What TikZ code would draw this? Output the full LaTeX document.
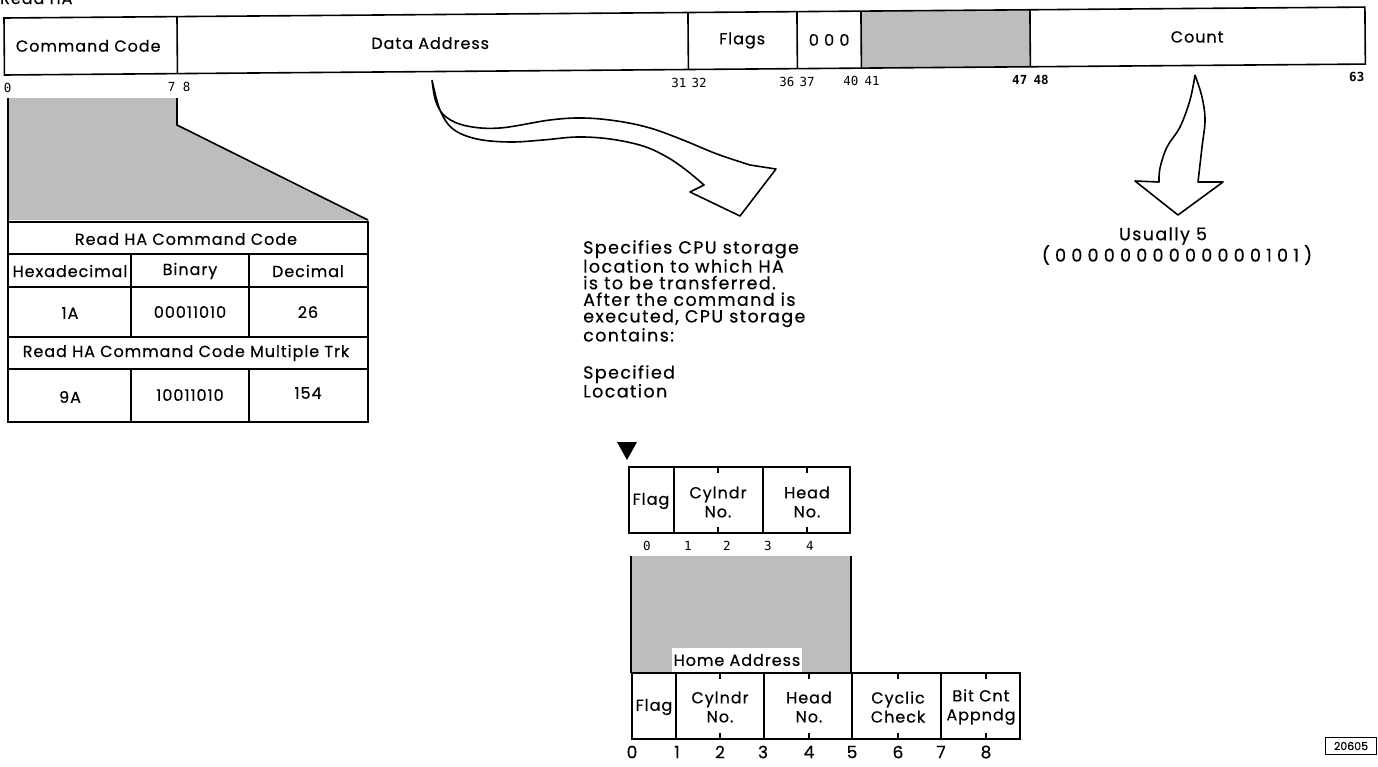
\documentclass[tikz,border=0pt]{standalone}
\usepackage{fontspec}
\setmainfont{Poppins}[FakeBold=0.4]
\newfontfamily\wfont{Poppins}[LetterSpace=6, FakeBold=0.4]
\newfontfamily\dfont{Poppins}[LetterSpace=8, FakeBold=0.4]
\newfontfamily\bfont{Poppins}[LetterSpace=30, FakeBold=0.4]
\newfontfamily\numfont{DejaVu Sans Mono}
\begin{document}
\begin{tikzpicture}[x=1pt,y=-1pt,
  reg/.style={draw, line width=1.6pt},
  thin/.style={draw, line width=1.3pt},
  shade/.style={fill=black!26},
  lbl/.style={font=\wfont\fontsize{16}{18}\selectfont, inner sep=0pt},
  tbl/.style={font=\wfont\fontsize{16}{18}\selectfont, inner sep=0pt},
  two/.style={font=\wfont\fontsize{16}{19}\selectfont, inner sep=0pt, align=center},
  bitn/.style={font=\numfont\fontsize{12.5}{13}\selectfont, inner sep=0pt},
  bitb/.style={font=\numfont\bfseries\fontsize{12.5}{13}\selectfont, inner sep=0pt},
  hnum/.style={font=\fontsize{17}{18}\selectfont, inner sep=0pt},
  desc/.style={font=\dfont\fontsize{17.5}{16.6}\selectfont, inner sep=0pt, align=left}]
\useasboundingbox (0,0) rectangle (1378,766);

\node[lbl, anchor=base west] (title) at (0,4) {Read HA};

% top register (slightly tilted like the scan)
\begin{scope}[rotate around={0.46:(4,18)}]
  \fill[shade] (861,18) rectangle (1030,75);
  \draw[reg] (4,18) rectangle (1365,75);
  \foreach \xx in {177,688,797,861,1030} \draw[reg] (\xx,18) -- (\xx,75);
  \node[lbl] (cc) at (88,46.5) {Command Code};
  \node[lbl] (da) at (430,46.5) {Data Address};
  \node[lbl] (fl) at (742,46.5) {Flags};
  \node[lbl] (zz) at (829,46.5) {0 0 0};
  \node[lbl] (ct) at (1197,46.5) {Count};
  \node[bitn, anchor=west] (b0) at (3,88) {0};
  \node[bitn, anchor=east] (b7) at (175,88) {7};
  \node[bitn, anchor=west] (b8) at (182,88) {8};
  \node[bitn, anchor=east] (b31) at (686,88) {31};
  \node[bitn, anchor=west] (b32) at (691,88) {32};
  \node[bitn, anchor=east] (b36) at (794,88) {36};
  \node[bitn, anchor=west] (b37) at (799,88) {37};
  \node[bitn, anchor=east] (b40) at (858,88) {40};
  \node[bitn, anchor=west] (b41) at (864,88) {41};
  \node[bitb, anchor=east] (b47) at (1027,88) {47};
  \node[bitb, anchor=west] (b48) at (1033,88) {48};
  \node[bitb, anchor=east] (b63) at (1364,88) {63};
\end{scope}

% zoom wedge
\fill[shade] (8,98) -- (177,98) -- (177,125) -- (368,220) -- (8,220) -- cycle;
\draw[reg] (8,98) -- (8,222);
\draw[reg] (177,98) -- (177,125) -- (368,220);

% table
\draw[reg] (8,222) rectangle (368,422);
\foreach \yy in {254,287,337,369} \draw[reg] (8,\yy) -- (368,\yy);
\foreach \xx in {131,249} {\draw[reg] (\xx,254) -- (\xx,337); \draw[reg] (\xx,369) -- (\xx,422);}
\node[tbl] (t1) at (186,239) {Read HA Command Code};
\node[tbl] (th1) at (70,271) {Hexadecimal};
\node[tbl] (th2) at (190,271) {Binary};
\node[tbl] (th3) at (308,271) {Decimal};
\node[tbl] (v1) at (70,313) {1A};
\node[tbl] (v2) at (190,312) {00011010};
\node[tbl] (v3) at (308,312) {26};
\node[tbl] (t2) at (186,353) {Read HA Command Code Multiple Trk};
\node[tbl] (w1) at (70,397) {9A};
\node[tbl] (w2) at (190,395) {10011010};
\node[tbl] (w3) at (308,393) {154};

% curved arrow from Data Address
\draw[line width=1.6pt, line join=round]
  plot[smooth, tension=0.6] coordinates {(432,80) (436,102) (446,117) (467,126) (500,128) (550,120) (583,118) (617,121) (650,128) (683,140) (717,154) (750,165)}
  -- (776,169) -- (740,216) -- (690,192)
  -- plot[smooth, tension=0.6] coordinates {(704,185) (686,170) (667,157) (643,146) (610,139) (577,137) (543,140) (510,142) (477,139) (453,129) (440,110) (432,80)};

% curved arrow from Count
\draw[line width=1.6pt, line join=round]
  plot[smooth, tension=0.6] coordinates {(1195,75) (1202,97) (1205,120) (1202,147) (1198,182)}
  -- (1223,182) -- (1178,215) -- (1135,181)
  -- plot[smooth, tension=0.6] coordinates {(1159,182) (1160,168) (1167,147) (1180,127) (1190,100) (1195,75)};

\node[desc, anchor=center] (us) at (1163,236) {Usually 5};
\node[font=\bfont\fontsize{17.5}{18}\selectfont, inner sep=0pt] (bin) at (1177,255) {(0000000000000101)};

% description
\node[desc, anchor=north west] (dsc) at (583,240) {Specifies CPU storage\\location to which HA\\is to be transferred.\\After the command is\\executed, CPU storage\\contains:};
\node[desc, anchor=north west] (spl) at (583,365) {Specified\\Location};
\fill (617,442) -- (637,442) -- (627,460) -- cycle;

% upper small register
\draw[reg] (629,467) rectangle (850,533);
\foreach \xx in {674,763} \draw[reg] (\xx,467) -- (\xx,533);
\foreach \xx in {718,807} {\draw[thin] (\xx,467) -- (\xx,473); \draw[thin] (\xx,533) -- (\xx,527);}
\node[tbl] (uf) at (651,501) {Flag};
\node[two] (uc) at (718,502) {Cylndr\\No.};
\node[two] (uh) at (807,502) {Head\\No.};
\node[bitn] (u0) at (647,546) {0};
\node[bitn] (u1) at (688,546) {1};
\node[bitn] (u2) at (727,546) {2};
\node[bitn] (u3) at (768,546) {3};
\node[bitn] (u4) at (810,546) {4};

% shaded home address block
\fill[shade] (631,556) rectangle (851,673);
\draw[reg] (631,556) -- (631,673);
\draw[reg] (851,556) -- (851,673);
\node[tbl, fill=white, minimum width=130pt, minimum height=25pt] (ha) at (737,660) {Home Address};

% lower register
\draw[reg] (632,673) rectangle (1020,739);
\foreach \xx in {676,764,852,941} \draw[reg] (\xx,673) -- (\xx,739);
\foreach \xx in {720,809,898,986} {\draw[thin] (\xx,673) -- (\xx,679); \draw[thin] (\xx,739) -- (\xx,733);}
\node[tbl] (lf) at (654,707) {Flag};
\node[two] (lc) at (720,707) {Cylndr\\No.};
\node[two] (lh) at (809,707) {Head\\No.};
\node[two] (lk) at (898,707) {Cyclic\\Check};
\node[two] (lb) at (981,707) {Bit Cnt\\Appndg};
\foreach \nn/\xx in {0/632,1/677,2/720,3/763,4/809,5/852,6/898,7/941,8/986}
  \node[hnum] (n\nn) at (\xx,752) {\nn};

% figure number
\node[draw, line width=1.2pt, minimum width=51pt, minimum height=17pt, inner sep=0pt,
  font=\fontsize{11}{12}\selectfont] (fig) at (1351,746) {20605};
\end{tikzpicture}
\end{document}
